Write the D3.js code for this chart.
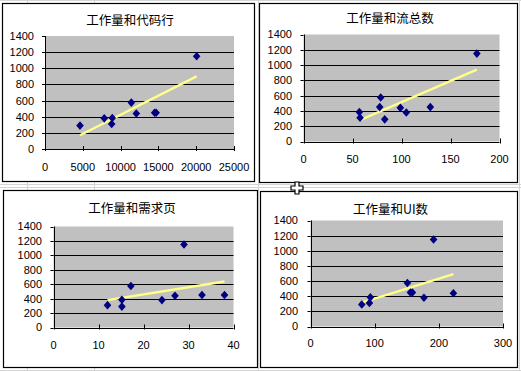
<!DOCTYPE html>
<html><head><meta charset="utf-8">
<script src="https://cdn.jsdelivr.net/npm/d3@7"></script>
<style>html,body{margin:0;padding:0;background:#fff;overflow:hidden}</style>
</head><body>
<svg id="c" width="521" height="371"></svg>
<script>
// ---- data ----
const workload   = [1150, 575, 450, 450, 440, 385, 380, 310, 290];
const codeLines  = [20060, 11420, 14500, 14700, 12080, 8900, 7840, 8820, 4630];
const flowTotals = [176.9, 78.8, 77.8, 129.4, 98.8, 57.0, 104.9, 57.7, 82.9];
const reqPages   = [29.0, 17.2, 33.0, 38.0, 27.0, 15.2, 24.1, 12.0, 15.2];
const uiCounts   = [191.8, 151.0, 155.7, 158.8, 222.7, 93.3, 176.8, 91.8, 79.9];
const titles     = ["工作量和代码行", "工作量和流总数", "工作量和需求页", "工作量和UI数"];
const yTicks     = [0, 200, 400, 600, 800, 1000, 1200, 1400];
const xTicks1    = [0, 5000, 10000, 15000, 20000, 25000];
const xTicks2    = [0, 50, 100, 150, 200];
const xTicks3    = [0, 10, 20, 30, 40];
const xTicks4    = [0, 100, 200, 300];

// ---- layout ----
const panels = [
  {xs: codeLines,  ticks: xTicks1, title: titles[0], box:[2,3,254,181],   plot:[45,36,234,149],     ty:20,  yl:34,  xl:167},
  {xs: flowTotals, ticks: xTicks2, title: titles[1], box:[259,3,517,182], plot:[303.5,34.5,499.5,141.5], ty:18, yl:292, xl:159},
  {xs: reqPages,   ticks: xTicks3, title: titles[2], box:[3,190,257,367], plot:[53.5,226.5,233.5,327.5], ty:208, yl:42, xl:345},
  {xs: uiCounts,   ticks: xTicks4, title: titles[3], box:[260,191,517,367],plot:[310.5,220.5,503,326.5], ty:209, yl:298, xl:343}
];

const svg = d3.select("#c");

// spreadsheet background grid
const bg = svg.append("g").attr("stroke", "#d4d4d4").attr("stroke-width", 1);
[0.5, 184.5, 187.5, 370.5].forEach(y => bg.append("line").attr("x1",0).attr("x2",521).attr("y1",y).attr("y2",y));
[27.5, 94.5, 258.5, 519.5].forEach(x => bg.append("line").attr("x1",x).attr("x2",x).attr("y1",0).attr("y2",371));

panels.forEach(p => {
  const g = svg.append("g");
  const [bx0, by0, bx1, by1] = p.box;
  g.append("rect").attr("x", bx0 + 0.5).attr("y", by0 + 0.5)
    .attr("width", bx1 - bx0).attr("height", by1 - by0)
    .attr("fill", "#fff").attr("stroke", "#000").attr("stroke-width", 1.2);

  const [px0, py0, px1, py1] = p.plot;
  const x = d3.scaleLinear().domain([p.ticks[0], p.ticks[p.ticks.length-1]]).range([px0, px1]);
  const y = d3.scaleLinear().domain([0, 1400]).range([py1, py0]);

  g.append("rect").attr("x", px0).attr("y", py0).attr("width", px1 - px0).attr("height", py1 - py0)
    .attr("fill", "#c0c0c0");

  // gridlines
  g.selectAll(".gl").data(yTicks.filter(t => t > 0 && t < 1400)).enter().append("line")
    .attr("x1", px0).attr("x2", px1)
    .attr("y1", d => Math.round(y(d)) + 0.5).attr("y2", d => Math.round(y(d)) + 0.5)
    .attr("stroke", "#000").attr("stroke-width", 1);

  // axes lines
  g.append("line").attr("x1", Math.round(px0)+0.5).attr("x2", Math.round(px0)+0.5)
    .attr("y1", py0).attr("y2", py1).attr("stroke", "#000");
  g.append("line").attr("x1", px0).attr("x2", px1)
    .attr("y1", Math.round(py1)+0.5).attr("y2", Math.round(py1)+0.5).attr("stroke", "#000");

  // y ticks + labels
  g.selectAll(".yt").data(yTicks).enter().append("line")
    .attr("x1", px0 - 3).attr("x2", px0)
    .attr("y1", d => Math.round(y(d)) + 0.5).attr("y2", d => Math.round(y(d)) + 0.5)
    .attr("stroke", "#000");
  g.selectAll(".yl").data(yTicks).enter().append("text")
    .attr("x", p.yl).attr("y", d => y(d)).attr("dy", "0.36em")
    .attr("text-anchor", "end").attr("font-family", "Liberation Sans, Arial, sans-serif")
    .attr("font-size", 11).attr("fill", "#000").text(d => d);

  // x ticks + labels
  g.selectAll(".xt").data(p.ticks).enter().append("line")
    .attr("x1", d => Math.round(x(d)) + 0.5).attr("x2", d => Math.round(x(d)) + 0.5)
    .attr("y1", py1 - 3).attr("y2", py1 + 2)
    .attr("stroke", "#000");
  g.selectAll(".xl").data(p.ticks).enter().append("text")
    .attr("x", d => x(d)).attr("y", p.xl).attr("dy", "0.36em")
    .attr("text-anchor", "middle").attr("font-family", "Liberation Sans, Arial, sans-serif")
    .attr("font-size", 11).attr("fill", "#000").text(d => d);

  // title
  g.append("text").attr("x", (bx0 + bx1) / 2 + 2).attr("y", p.ty).attr("dy", "0.38em")
    .attr("text-anchor", "middle").attr("font-family", "Noto Sans CJK SC, sans-serif")
    .attr("font-size", 12.5).attr("fill", "#000").text(p.title);

  // trendline (least squares)
  const n = p.xs.length;
  const mx = d3.mean(p.xs), my = d3.mean(workload);
  let sxy = 0, sxx = 0;
  for (let i = 0; i < n; i++) { sxy += (p.xs[i]-mx)*(workload[i]-my); sxx += (p.xs[i]-mx)**2; }
  const b = sxy / sxx, a = my - b * mx;
  const [xmin, xmax] = d3.extent(p.xs);
  g.append("line").attr("x1", x(xmin)).attr("y1", y(a + b*xmin))
    .attr("x2", x(xmax)).attr("y2", y(a + b*xmax))
    .attr("stroke", "#ffff8a").attr("stroke-width", 2.4);

  // markers
  const pts = p.xs.map((v, i) => [v, workload[i]]);
  g.selectAll(".pt").data(pts).enter().append("path")
    .attr("d", d => {
      const cx = x(d[0]), cy = y(d[1]);
      return `M${cx},${cy-4.3}L${cx+3.8},${cy}L${cx},${cy+4.3}L${cx-3.8},${cy}Z`;
    })
    .attr("fill", "#000080");
});

// cursor (white cross)
const cx0 = 297, cy0 = 188;
svg.append("path")
  .attr("d", `M${cx0-2},${cy0-6}h4v4h4v4h-4v4h-4v-4h-4v-4h4z`)
  .attr("fill", "#fff").attr("stroke", "#000").attr("stroke-width", 1.2);
</script>
</body></html>
